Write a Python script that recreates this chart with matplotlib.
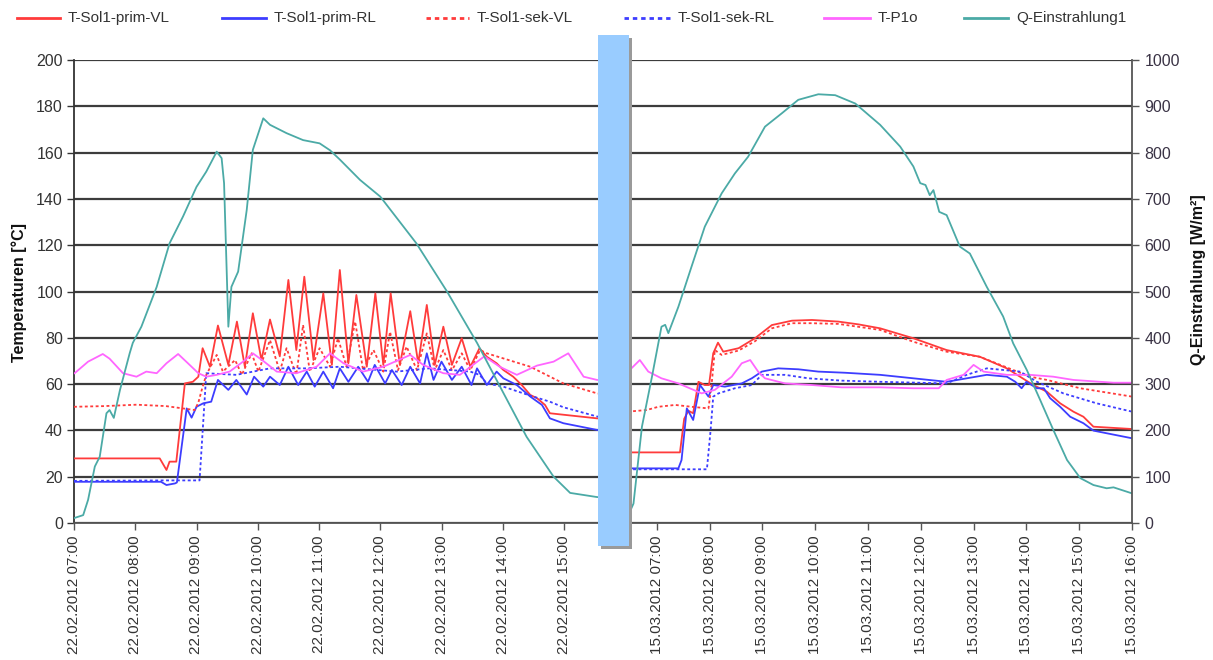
import matplotlib
matplotlib.use("Agg")
import matplotlib.pyplot as plt
from matplotlib.lines import Line2D
from matplotlib.patches import Rectangle

plt.rcParams['font.family'] = ['Liberation Sans', 'DejaVu Sans']

# ---------------- data (hours of day, values) ----------------
series_names = ["T-Sol1-prim-VL", "T-Sol1-prim-RL", "T-Sol1-sek-VL",
                "T-Sol1-sek-RL", "T-P1o", "Q-Einstrahlung1"]
day1_label = "22.02.2012"
day2_label = "15.03.2012"
day1_ticks = [7, 8, 9, 10, 11, 12, 13, 14, 15]
day2_ticks = [7, 8, 9, 10, 11, 12, 13, 14, 15, 16]

# Day 1 (22.02.2012)
d1_q_h = [7.01, 7.15, 7.23, 7.34, 7.42, 7.53, 7.58, 7.65, 7.75, 7.91, 7.96, 8.10, 8.35, 8.56,
          8.78, 9.00, 9.16, 9.33, 9.41, 9.45, 9.52, 9.57, 9.68, 9.82, 9.92, 10.09, 10.20,
          10.47, 10.74, 11.01, 11.18, 11.34, 11.67, 12.00, 12.59, 13.09, 13.58, 14.01,
          14.39, 14.83, 15.10, 15.54, 15.80]
d1_q = [11, 17, 50, 122, 143, 237, 244, 227, 287, 367, 389, 424, 510, 604, 662, 726, 759,
        802, 788, 734, 424, 510, 543, 676, 806, 874, 860, 842, 827, 820, 805, 785, 741,
        705, 604, 500, 389, 281, 186, 100, 65, 56, 55]

d1_vl_h = [7.00, 8.40, 8.51, 8.56, 8.67, 8.81, 8.94, 9.03, 9.10, 9.22, 9.35, 9.52, 9.66,
           9.79, 9.92, 10.06, 10.20, 10.36, 10.50, 10.63, 10.76, 10.91, 11.07, 11.21,
           11.34, 11.48, 11.61, 11.78, 11.92, 12.05, 12.17, 12.32, 12.49, 12.62, 12.76,
           12.89, 13.03, 13.17, 13.33, 13.47, 13.62, 13.74, 13.90, 14.01, 14.17, 14.31,
           14.45, 14.56, 14.69, 14.77, 15.54, 15.80]
d1_vl = [27.9, 27.9, 22.9, 26.5, 26.5, 60.3, 61.0, 63.2, 75.5, 67.5, 85.3, 68.3, 87.0,
         67.5, 90.6, 70.4, 87.9, 72.0, 105.0, 74.7, 106.4, 70.4, 99.2, 68.3, 109.3, 69.0,
         98.5, 67.5, 99.2, 68.3, 99.2, 68.3, 91.5, 69.0, 94.2, 68.3, 84.8, 68.3, 79.8,
         67.5, 75.5, 71.8, 69.0, 66.1, 63.2, 59.6, 55.3, 53.9, 51.0, 47.4, 45.2, 45.0]

d1_rl_h = [7.00, 8.42, 8.51, 8.65, 8.68, 8.84, 8.92, 9.00, 9.11, 9.24, 9.35, 9.52, 9.65,
           9.82, 9.94, 10.09, 10.20, 10.36, 10.50, 10.66, 10.80, 10.93, 11.07, 11.23,
           11.34, 11.48, 11.64, 11.80, 11.91, 12.08, 12.19, 12.35, 12.49, 12.65, 12.76,
           12.87, 13.00, 13.17, 13.33, 13.49, 13.58, 13.74, 13.90, 14.01, 14.23, 14.45,
           14.64, 14.77, 14.99, 15.54, 15.80]
d1_rl = [17.8, 17.8, 16.4, 17.1, 17.5, 49.5, 45.5, 50.2, 51.7, 52.4, 61.8, 57.5, 61.8,
         55.5, 63.2, 58.9, 63.2, 59.6, 67.5, 59.6, 65.4, 58.9, 65.4, 58.2, 66.8, 61.0,
         67.5, 61.0, 68.3, 60.3, 66.1, 59.6, 67.5, 60.3, 73.3, 61.8, 69.7, 61.8, 67.5,
         59.6, 66.8, 59.6, 65.4, 62.5, 59.6, 54.6, 51.0, 45.2, 43.1, 40.2, 39.8]

d1_sv_h = [7.00, 7.50, 8.02, 8.50, 8.97, 9.03, 9.10, 9.16, 9.33, 9.43, 9.63, 9.74, 9.90,
           10.01, 10.20, 10.36, 10.47, 10.63, 10.74, 10.85, 11.01, 11.18, 11.31, 11.45,
           11.59, 11.72, 11.89, 12.05, 12.16, 12.29, 12.43, 12.60, 12.76, 12.89, 13.03,
           13.17, 13.33, 13.47, 13.63, 13.74, 14.45, 14.99, 15.54, 15.80]
d1_sv = [50.2, 50.5, 51.1, 50.5, 48.8, 52.0, 58.9, 64.0, 72.6, 65.4, 70.4, 64.0, 73.3,
         65.4, 79.0, 65.4, 75.5, 64.0, 85.5, 65.4, 75.5, 67.5, 79.8, 67.5, 87.0, 66.0,
         74.7, 65.4, 82.6, 66.0, 76.2, 66.0, 81.9, 66.0, 74.7, 66.0, 73.3, 66.0, 74.7,
         73.3, 67.5, 60.3, 56.0, 55.0]

d1_sr_h = [7.00, 8.50, 9.05, 9.16, 9.65, 10.20, 10.80, 11.34, 12.27, 12.80, 13.47, 13.62,
           13.74, 14.01, 14.45, 14.77, 14.99, 15.54, 15.80]
d1_sr = [18.2, 18.4, 18.4, 64.7, 64.0, 66.8, 66.8, 67.5, 65.4, 66.8, 65.4, 64.0, 60.3,
         58.9, 55.0, 52.4, 50.0, 46.0, 45.0]

d1_p_h = [7.01, 7.23, 7.47, 7.58, 7.80, 8.02, 8.18, 8.35, 8.51, 8.70, 8.86, 9.03, 9.16,
          9.33, 9.54, 9.76, 9.92, 10.09, 10.31, 10.63, 10.96, 11.18, 11.40, 11.72, 12.05,
          12.49, 12.70, 13.03, 13.30, 13.70, 13.95, 14.23, 14.56, 14.83, 15.07, 15.32,
          15.54, 15.80]
d1_p = [64.7, 69.7, 73.0, 71.0, 64.7, 63.2, 65.4, 64.7, 69.0, 73.0, 69.0, 64.7, 63.2,
        64.0, 65.4, 69.7, 73.3, 70.0, 65.4, 64.7, 67.5, 73.3, 69.0, 65.4, 67.5, 72.6,
        68.3, 64.7, 64.0, 72.0, 67.5, 64.0, 68.0, 69.7, 73.3, 63.2, 61.8, 61.5]

# Day 2 (15.03.2012)
d2_q_h = [6.45, 6.49, 6.56, 6.72, 6.91, 7.09, 7.16, 7.22, 7.41, 7.66, 7.91, 8.23, 8.48,
          8.73, 9.05, 9.37, 9.68, 10.06, 10.38, 10.76, 11.23, 11.61, 11.86, 11.99, 12.09,
          12.17, 12.24, 12.35, 12.49, 12.74, 12.93, 13.09, 13.25, 13.56, 13.75, 14.01,
          14.26, 14.51, 14.77, 15.02, 15.27, 15.52, 15.65, 16.00]
d2_q = [15, 24, 42, 208, 316, 424, 428, 410, 467, 554, 640, 712, 755, 791, 856, 885, 914,
        926, 924, 906, 860, 813, 770, 734, 730, 708, 719, 672, 665, 597, 582, 546, 510,
        446, 388, 330, 266, 201, 136, 97, 82, 75, 77, 64]

d2_vl_h = [6.45, 7.44, 7.52, 7.60, 7.69, 7.79, 7.91, 7.99, 8.07, 8.16, 8.26, 8.55, 8.86,
           9.18, 9.56, 9.94, 10.44, 10.82, 11.23, 11.86, 12.49, 13.12, 13.63, 13.88,
           14.13, 14.39, 14.64, 14.89, 15.08, 15.27, 16.00]
d2_vl = [30.5, 30.5, 45.0, 48.5, 47.4, 61.0, 59.6, 59.6, 73.3, 77.9, 74.0, 75.5, 79.8,
         85.5, 87.4, 87.7, 87.0, 85.8, 84.1, 79.8, 74.7, 71.8, 66.8, 63.2, 59.6, 56.7,
         51.7, 48.1, 45.9, 41.6, 40.6]

d2_rl_h = [6.45, 7.41, 7.47, 7.57, 7.69, 7.82, 7.98, 8.07, 8.29, 8.61, 8.80, 8.99, 9.30,
           9.68, 10.06, 10.57, 11.23, 11.86, 12.49, 13.25, 13.63, 13.79, 13.91, 14.00,
           14.20, 14.33, 14.45, 14.64, 14.83, 15.08, 15.27, 16.00]
d2_rl = [23.6, 23.6, 27.2, 49.5, 44.5, 59.6, 54.6, 59.6, 58.9, 60.3, 62.5, 65.4, 66.8,
         66.4, 65.4, 64.9, 64.0, 62.5, 61.0, 64.0, 63.2, 61.0, 58.2, 61.0, 58.2, 58.2,
         53.9, 50.2, 45.9, 43.1, 39.9, 36.6]

d2_sv_h = [6.45, 6.81, 7.03, 7.35, 7.66, 7.98, 8.04, 8.10, 8.23, 8.55, 8.86, 9.18, 9.56,
           9.94, 10.44, 11.23, 11.86, 12.49, 13.12, 13.75, 14.07, 14.39, 15.02, 16.00]
d2_sv = [48.1, 48.8, 50.2, 51.0, 50.2, 49.5, 60.0, 74.7, 72.6, 74.5, 78.5, 84.1, 86.3,
         86.3, 86.0, 83.4, 78.3, 74.0, 71.8, 66.1, 63.2, 61.8, 58.2, 54.6]

d2_sr_h = [6.45, 7.95, 8.02, 8.07, 8.17, 8.48, 8.80, 8.99, 9.43, 9.87, 10.50, 11.23,
           12.49, 12.87, 13.25, 13.88, 14.20, 14.70, 15.33, 16.00]
d2_sr = [23.2, 23.2, 40.0, 54.6, 56.0, 58.2, 59.6, 64.0, 64.0, 62.5, 61.5, 61.0, 60.3,
         64.0, 66.8, 65.4, 61.0, 56.0, 51.7, 48.1]

d2_p_h = [6.45, 6.49, 6.68, 6.84, 7.09, 7.41, 7.85, 8.10, 8.42, 8.61, 8.77, 8.92, 9.05,
          9.43, 9.94, 10.50, 11.23, 11.86, 12.34, 12.49, 12.81, 13.00, 13.19, 13.63,
          14.07, 14.51, 14.89, 15.65, 16.00]
d2_p = [65.5, 66.1, 70.4, 65.4, 62.5, 60.3, 56.0, 57.5, 63.2, 69.0, 70.4, 65.4, 62.5,
        60.3, 59.6, 58.6, 58.6, 58.2, 58.2, 61.8, 64.0, 68.3, 65.4, 64.0, 64.0, 63.2,
        61.8, 60.6, 60.6]

# ---------------- styling ----------------
RED = "#FF3B3B"
BLUE = "#3D3DFF"
MAG = "#FF66FF"
TEAL = "#4BAAA6"
GRID = "#3c3c3c"
TXT = "#333333"
LW = 1.3
DOT = (0, (1.6, 1.4))

W, H = 1213, 660
fig = plt.figure(figsize=(W / 100, H / 100), dpi=100)
fig.patch.set_facecolor("white")


def fx(px):
    return px / W


def fy(py):
    return 1 - py / H


bottom, top = fy(523), fy(60)
axL = fig.add_axes([fx(74), bottom, fx(613) - fx(74), top - bottom])
axR = fig.add_axes([fx(613), bottom, fx(1132) - fx(613), top - bottom])
axLq = axL.twinx()
axRq = axR.twinx()

for ax, (h_vl, vl, h_rl, rl, h_sv, sv, h_sr, sr, h_p, p) in (
        (axL, (d1_vl_h, d1_vl, d1_rl_h, d1_rl, d1_sv_h, d1_sv, d1_sr_h, d1_sr, d1_p_h, d1_p)),
        (axR, (d2_vl_h, d2_vl, d2_rl_h, d2_rl, d2_sv_h, d2_sv, d2_sr_h, d2_sr, d2_p_h, d2_p))):
    ax.plot(h_vl, vl, color=RED, lw=LW, zorder=3)
    ax.plot(h_rl, rl, color=BLUE, lw=LW, zorder=3)
    ax.plot(h_sv, sv, color=RED, lw=LW, ls=DOT, zorder=3)
    ax.plot(h_sr, sr, color=BLUE, lw=LW, ls=DOT, zorder=3)
    ax.plot(h_p, p, color=MAG, lw=LW, zorder=3)
    ax.set_ylim(0, 200)
    ax.set_yticks(range(0, 201, 20))
    ax.grid(axis="y", color=GRID, lw=1.6, zorder=0)
    ax.set_axisbelow(True)
    for s in ("top", "right"):
        ax.spines[s].set_visible(False)
    ax.spines["bottom"].set_color("#555555")
    ax.spines["bottom"].set_linewidth(1.3)

axLq.plot(d1_q_h, d1_q, color=TEAL, lw=LW)
axRq.plot(d2_q_h, d2_q, color=TEAL, lw=LW)

axL.set_xlim(7.0, 15.80)
axR.set_xlim(6.172, 16.0)
for axq in (axLq, axRq):
    axq.set_ylim(0, 1000)
    for s in ("top", "left", "bottom", "right"):
        axq.spines[s].set_visible(False)

# left axis
axL.spines["left"].set_color("#333333")
axL.spines["left"].set_linewidth(1.3)
axL.tick_params(axis="y", direction="out", length=5, width=1, colors="#333333",
                labelsize=11.5, labelcolor=TXT, pad=3)
axR.spines["left"].set_visible(False)
axR.tick_params(axis="y", length=0, labelleft=False)
axLq.tick_params(axis="y", length=0, labelright=False)

# right axis
axRq.spines["right"].set_visible(True)
axRq.spines["right"].set_color("#555555")
axRq.spines["right"].set_linewidth(1.3)
axRq.set_yticks(range(0, 1001, 100))
axRq.tick_params(axis="y", direction="out", length=5, width=1, colors="#555555",
                 labelsize=11.5, labelcolor="#3a3345", pad=4)

# x ticks
axL.set_xticks(day1_ticks)
axL.set_xticklabels([f"{day1_label} {h:02d}:00" for h in day1_ticks], rotation=90)
axR.set_xticks(day2_ticks)
axR.set_xticklabels([f"{day2_label} {h:02d}:00" for h in day2_ticks], rotation=90)
for ax in (axL, axR):
    ax.tick_params(axis="x", direction="out", length=5, width=1, colors="#555555",
                   labelsize=11, labelcolor=TXT, pad=4)

# axis titles
fig.text(fx(19), fy(293), "Temperaturen [°C]", rotation=90, ha="center", va="center",
         fontsize=11.5, fontweight="bold", color="#111111")
fig.text(fx(1199), fy(280), "Q-Einstrahlung [W/m²]", rotation=90, ha="center",
         va="center", fontsize=11.5, fontweight="bold", color="#111111")

# blue separator bar with shadow
fig.add_artist(Rectangle((fx(601), fy(549)), fx(31), fy(38) - fy(549),
                         transform=fig.transFigure, facecolor="#9a9a9a",
                         edgecolor="none", zorder=10))
fig.add_artist(Rectangle((fx(598), fy(546)), fx(31), fy(35) - fy(546),
                         transform=fig.transFigure, facecolor="#99CCFF",
                         edgecolor="none", zorder=11))

# legend (manual, Excel-like)
leg_line_x = [(17, 60), (222, 266), (426, 469), (624, 670), (824, 870), (964, 1008)]
leg_styles = [(RED, "-"), (BLUE, "-"), (RED, DOT), (BLUE, DOT), (MAG, "-"), (TEAL, "-")]
ly = fy(18)
for name, (x0, x1), (c, ls) in zip(series_names, leg_line_x, leg_styles):
    fig.add_artist(Line2D([fx(x0), fx(x1)], [ly, ly], transform=fig.transFigure,
                          color=c, lw=2.0, ls=ls))
    fig.text(fx(x1 + 8), ly, name, ha="left", va="center", fontsize=11, color=TXT)

fig.savefig("out.png", dpi=100)
